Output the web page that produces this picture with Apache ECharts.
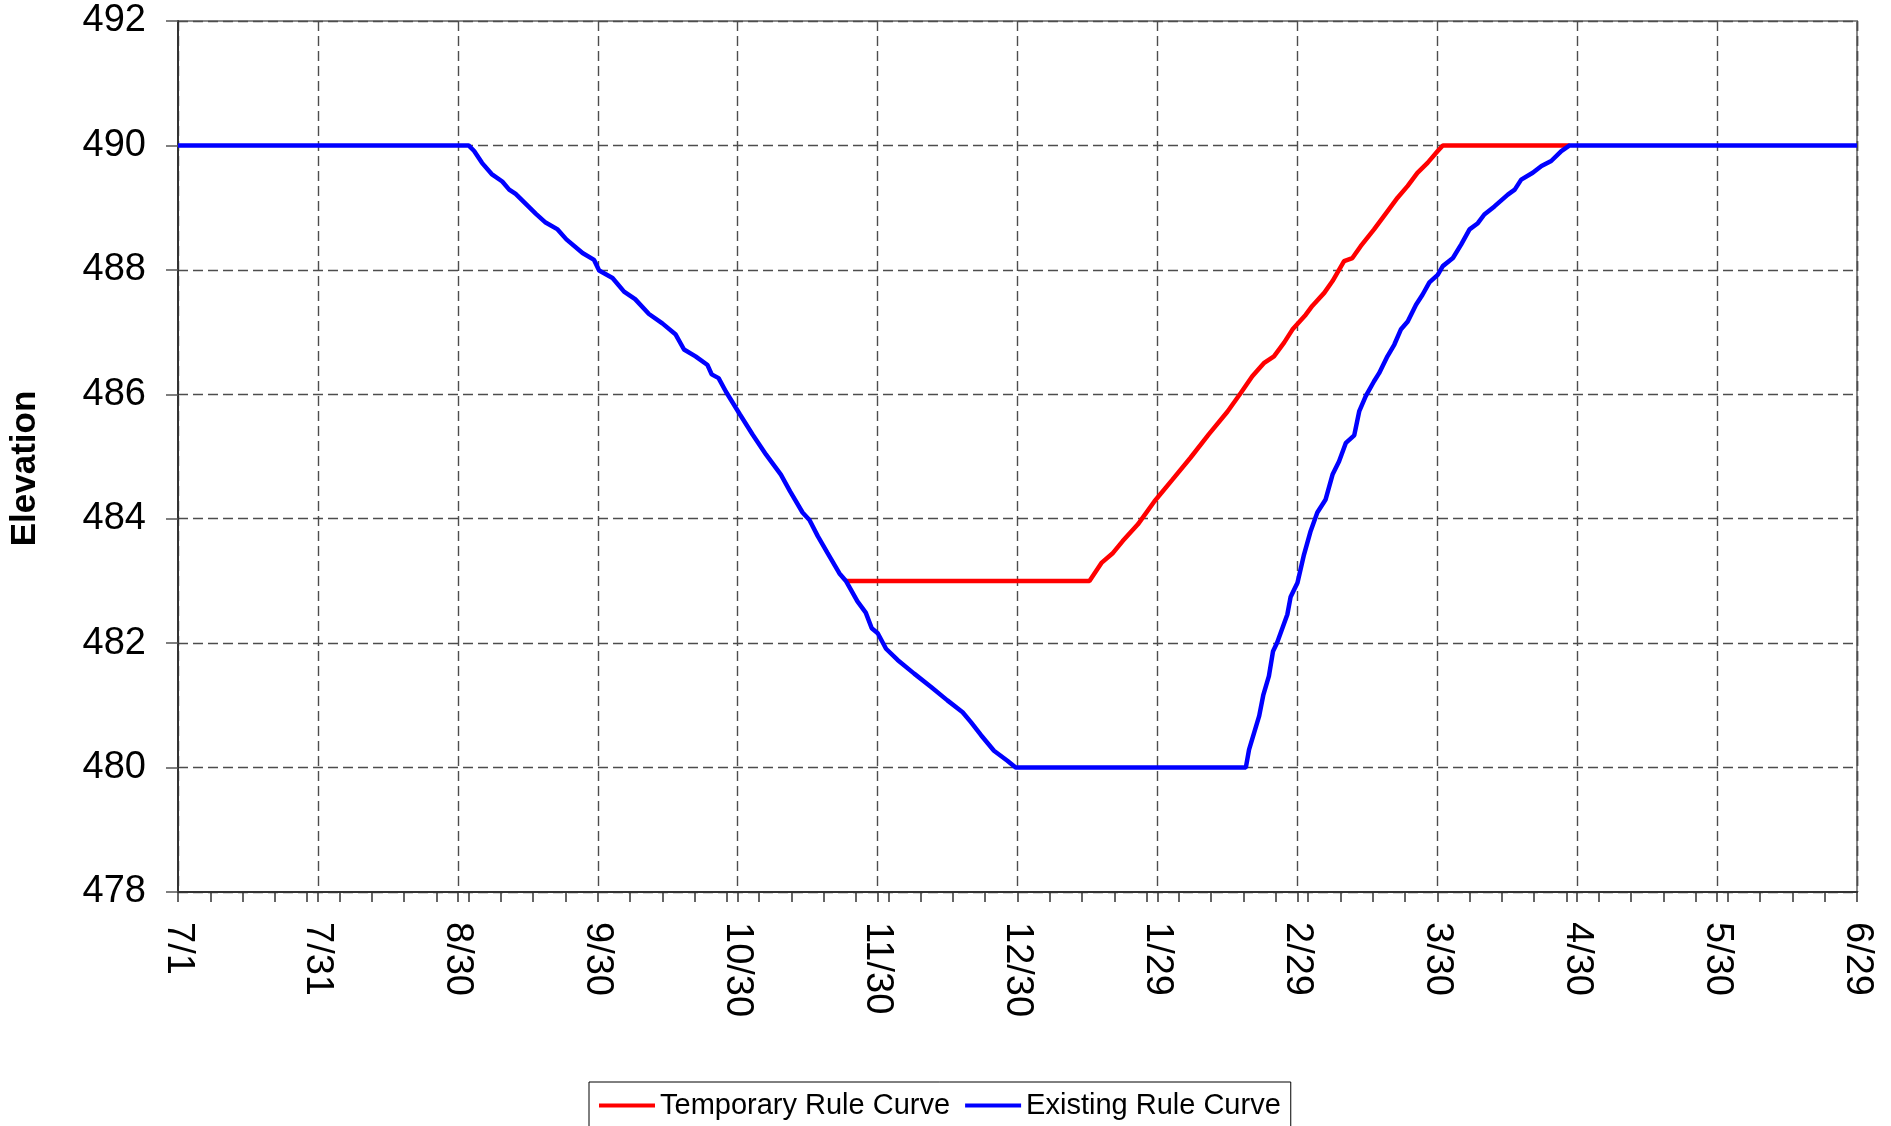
<!DOCTYPE html>
<html>
<head>
<meta charset="utf-8">
<script src="https://cdn.jsdelivr.net/npm/echarts@6/dist/echarts.min.js"></script>
<style>
html,body{margin:0;padding:0;background:#fff;}
#chart{width:1891px;height:1126px;}
</style>
</head>
<body>
<div id="chart"></div>
<script>
// X tick labels (one every 1/12 of the 364-day span, 7/1 .. 6/29)
const xLabels = ['7/1','7/31','8/30','9/30','10/30','11/30','12/30','1/29','2/29','3/30','4/30','5/30','6/29'];
const xSpanDays = 364;

// Existing Rule Curve: day offset from 7/1, elevation
const existingDays = [0,63.0,64.2,65.9,68.0,70.3,71.8,73.2,77.6,79.7,82.3,84.2,87.7,90.2,91.3,94.2,96.7,99.1,102.1,105.0,107.9,109.7,112.2,114.8,115.7,117.2,118.8,121.8,124.6,127.5,130.7,132.7,135.4,136.9,138.7,140.8,143.4,144.8,147.3,149.1,150.4,151.7,153.5,156.0,159.6,163.2,166.8,170.1,171.9,174.1,176.9,179.8,181.6,231.5,232.2,234.4,235.3,236.5,237.4,238.3,240.5,241.2,242.7,244.1,245.5,247.0,248.8,250.3,251.7,253.2,255.0,256.1,257.5,259.3,260.4,262.2,263.7,265.1,266.6,268.4,269.8,271.3,273.1,274.2,276.4,278.2,280.0,281.8,283.2,285.4,288.3,289.8,291.2,293.7,295.6,297.7,299.9,301.7,364];
const existingValues = [490,490,489.91,489.72,489.54,489.42,489.29,489.22,488.90,488.76,488.65,488.49,488.27,488.16,487.99,487.87,487.65,487.53,487.29,487.14,486.96,486.72,486.61,486.47,486.32,486.26,486.04,485.68,485.35,485.03,484.71,484.44,484.10,483.98,483.72,483.45,483.12,483.00,482.67,482.49,482.24,482.16,481.91,481.73,481.51,481.30,481.08,480.89,480.73,480.52,480.27,480.11,480.00,480.00,480.29,480.83,481.17,481.47,481.87,482.01,482.46,482.74,482.97,483.42,483.79,484.10,484.31,484.71,484.92,485.22,485.34,485.73,485.97,486.21,486.34,486.61,486.80,487.04,487.17,487.44,487.60,487.80,487.92,488.06,488.19,488.41,488.65,488.75,488.89,489.02,489.21,489.29,489.45,489.56,489.67,489.75,489.91,490.00,490.00];

// Temporary Rule Curve (where it differs from the existing curve)
const temporaryDays = [144.8,197.6,200.2,202.7,204.8,208.1,211.7,215.5,219.5,223.5,227.5,230.4,232.9,235.4,237.6,239.8,241.6,244.5,245.9,248.5,250.3,252.8,254.6,256.4,259.3,262.2,264.4,266.6,268.7,270.9,273.1,274.2,301.7];
const temporaryValues = [483.00,483.00,483.29,483.45,483.64,483.91,484.28,484.62,484.98,485.36,485.72,486.02,486.29,486.50,486.61,486.83,487.04,487.28,487.42,487.63,487.82,488.14,488.19,488.38,488.65,488.94,489.16,489.35,489.56,489.72,489.91,490.00,490.00];

const seriesNames = ['Temporary Rule Curve', 'Existing Rule Curve'];

function pairs(xs, ys){ return xs.map((x,i)=>[x, ys[i]]); }

// choose a narrow font for the legend if available
function fontAvailable(name){
  const c = document.createElement('canvas').getContext('2d');
  const t = 'Temporary Rule Curve 0123';
  c.font = '40px monospace'; const a = c.measureText(t).width;
  c.font = '40px "' + name + '", monospace'; const b = c.measureText(t).width;
  return Math.abs(a-b) > 0.5;
}
const narrowOk = fontAvailable('Liberation Sans Narrow');
const legendFont = narrowOk ? '"Liberation Sans Narrow", "Liberation Sans", Arial, sans-serif' : '"Liberation Sans", Arial, sans-serif';
const legendSize = narrowOk ? 34 : 29;

const FONT = '"Liberation Sans", Arial, sans-serif';
const chart = echarts.init(document.getElementById('chart'), null, {renderer:'canvas'});
chart.setOption({
  animation: false,
  backgroundColor: '#fff',
  grid: { left: 176, right: 34, top: 21, bottom: 234, show: true, borderColor: '#8a8a8a', borderWidth: 2, containLabel: false },
  legend: {
    data: seriesNames,
    left: 589, top: 1082,
    icon: 'rect',
    itemWidth: 56, itemHeight: 4, itemGap: 15,
    padding: [9, 10, 10, 10],
    borderColor: '#000', borderWidth: 1,
    textStyle: { fontFamily: legendFont, fontSize: legendSize, color: '#000' }
  },
  xAxis: [{
    type: 'value', min: 0, max: xSpanDays, interval: xSpanDays / (xLabels.length - 1),
    axisLine: { show: true, onZero: false, lineStyle: { color: '#333', width: 2 } },
    axisTick: { show: true, inside: false, length: 10, lineStyle: { color: '#333', width: 1.5 } },
    axisLabel: {
      rotate: -90, margin: 30, fontSize: 38, fontFamily: FONT, color: '#000',
      formatter: function (v, i) { return i < xLabels.length ? xLabels[i] : ''; }
    },
    splitLine: { show: true, lineStyle: { color: '#4d4d4d', width: 1.4, type: [10, 5] } }
  }, {
    type: 'value', min: 0, max: xSpanDays, interval: 7, position: 'bottom',
    axisLine: { show: false }, axisLabel: { show: false }, splitLine: { show: false },
    axisTick: { show: true, inside: false, length: 10, lineStyle: { color: '#333', width: 1.5 } }
  }],
  yAxis: {
    type: 'value', min: 478, max: 492, interval: 2,
    name: 'Elevation', nameLocation: 'middle', nameGap: 135, nameRotate: 90,
    nameTextStyle: { fontFamily: FONT, fontSize: 35, fontWeight: 'bold', color: '#000', padding: [0, 24, 0, 0] },
    axisLine: { show: true, lineStyle: { color: '#333', width: 2 } },
    axisTick: { show: true, inside: false, length: 12, lineStyle: { color: '#555', width: 1.5 } },
    axisLabel: { margin: 32, fontSize: 38, fontFamily: FONT, color: '#000' },
    splitLine: { show: true, lineStyle: { color: '#4d4d4d', width: 1.4, type: [10, 5] } }
  },
  series: [{
    name: seriesNames[0], type: 'line', xAxisIndex: 0, data: pairs(temporaryDays, temporaryValues),
    symbol: 'none', lineStyle: { color: '#ff0000', width: 4.5 }, itemStyle: { color: '#ff0000' }, z: 3
  }, {
    name: seriesNames[1], type: 'line', xAxisIndex: 0, data: pairs(existingDays, existingValues),
    symbol: 'none', lineStyle: { color: '#0000ff', width: 4.5 }, itemStyle: { color: '#0000ff' }, z: 4
  }]
});
</script>
</body>
</html>
